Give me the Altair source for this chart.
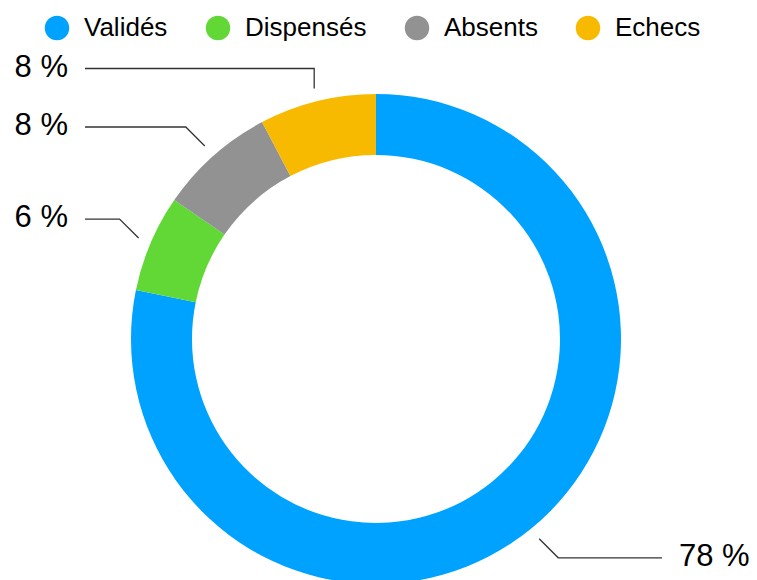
import numpy as np
import pandas as pd
import altair as alt

categories = ["Validés", "Dispensés", "Absents", "Echecs"]
values = [78.2, 6.4, 7.7, 7.7]
colors = ["#00A2FF", "#61D836", "#929292", "#F8BA00"]

W, H = 741, 572
CX, CY = 368, 331
R_OUT, R_IN = 245, 184
R_LEAD = 258
ELBOW = 19
LEFT_END, RIGHT_END = 77, 654
TEXT_GAP = 17

df = pd.DataFrame({"cat": categories, "value": values, "idx": range(len(values))})

# leader lines computed from the slice angles
tot = float(sum(values))
cum = np.cumsum([0] + values)
line_rows, text_rows = [], []
for i, (c, v) in enumerate(zip(categories, values)):
    mid = (cum[i] + v / 2) / tot * 2 * np.pi
    s, co = np.sin(mid), -np.cos(mid)
    x1, y1 = CX + R_LEAD * s, CY + R_LEAD * co
    sx = np.sign(s) if abs(s) > 0.5 else 0
    sy = np.sign(co)
    el = ELBOW if sx != 0 else ELBOW + 1
    x2, y2 = x1 + sx * el, y1 + sy * el
    right = s > 0
    x3 = RIGHT_END if right else LEFT_END
    for k, (px, py) in enumerate([(x1, y1), (x2, y2), (x3, y2)]):
        line_rows.append({"cat": c, "k": k, "px": px, "py": py})
    pct = int(round(v / tot * 100))
    text_rows.append({"cat": c, "label": f"{pct} %",
                      "px": x3 + (TEXT_GAP if right else -TEXT_GAP), "py": y2 - 1,
                      "align": "left" if right else "right"})
lines = pd.DataFrame(line_rows)
texts = pd.DataFrame(text_rows)

xs = alt.Scale(domain=[0, W], range=[0, W])
ys = alt.Scale(domain=[0, H], range=[0, H])

arc = alt.Chart(df).mark_arc(outerRadius=R_OUT, innerRadius=R_IN, stroke=None).encode(
    theta=alt.Theta("value:Q", stack=True),
    order=alt.Order("idx:Q"),
    color=alt.Color("cat:N", sort=categories,
                    scale=alt.Scale(domain=categories, range=colors),
                    legend=alt.Legend(title=None, orient="none", legendX=36, legendY=7,
                                      direction="horizontal", symbolType="circle",
                                      symbolSize=600, symbolStrokeWidth=0,
                                      labelFontSize=26, labelFont="Liberation Sans",
                                      labelColor="#000000", labelOffset=14,
                                      columnPadding=37, labelLimit=300)),
    x=alt.value(CX), y=alt.value(CY),
)

lead = alt.Chart(lines).mark_line(color="#333333", strokeWidth=1.3).encode(
    x=alt.X("px:Q", scale=xs, axis=None),
    y=alt.Y("py:Q", scale=ys, axis=None),
    detail="cat:N",
    order="k:Q",
)

txt_left = alt.Chart(texts[texts["align"] == "right"]).mark_text(
    align="right", baseline="middle", fontSize=31, font="Liberation Sans", color="#000000"
).encode(x=alt.X("px:Q", scale=xs, axis=None), y=alt.Y("py:Q", scale=ys, axis=None), text="label:N")

txt_right = alt.Chart(texts[texts["align"] == "left"]).mark_text(
    align="left", baseline="middle", fontSize=31, font="Liberation Sans", color="#000000"
).encode(x=alt.X("px:Q", scale=xs, axis=None), y=alt.Y("py:Q", scale=ys, axis=None), text="label:N")

chart = alt.layer(arc, lead, txt_left, txt_right).properties(
    width=W, height=H, padding=0, autosize="none", background="white"
).configure_view(stroke=None)

chart.save("out.html", embed_options={"renderer": "svg", "actions": False})
